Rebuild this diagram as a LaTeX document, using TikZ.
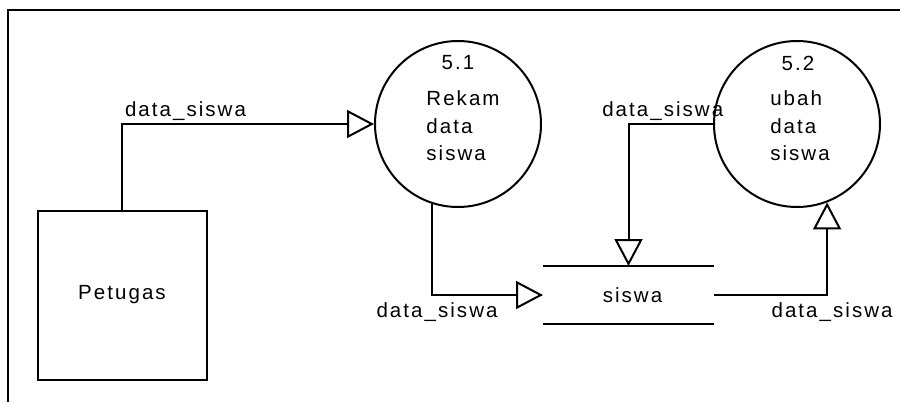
\documentclass[tikz,border=0pt]{standalone}
\usepackage{fontspec}
\setmainfont{Liberation Sans}[LetterSpace=10]
\usetikzlibrary{arrows.meta}

\begin{document}
\begin{tikzpicture}[x=1pt, y=-1pt, line width=2pt,
  every node/.style={font=\fontsize{20.5}{27.5}\selectfont},
  proc/.style={draw, circle, minimum size=166pt, inner sep=0pt},
  ent/.style={draw, rectangle, minimum width=169pt, minimum height=169pt},
  store/.style={rectangle, minimum width=169pt, minimum height=56pt},
  flow/.style={-{Triangle[open, length=27pt, width=28pt]}},
  lbl/.style={inner sep=2pt}]
\useasboundingbox (0,0) rectangle (900,402);
\draw[line width=2.4pt] (900,10) -- (8,10) -- (8,402);

\node[ent] (petugas) at (122,295) {Petugas};
\node[proc] (rekam) at (458,124) {};
\node (rekamno) at (458,63) {5.1};
\node[align=left] (rekamtxt) at (463,126) {Rekam\\data\\siswa};
\node[proc] (ubah) at (797,124) {};
\node (ubahno) at (798,63) {5.2};
\node[align=left] (ubahtxt) at (800,126) {ubah\\data\\siswa};
\node[store] (siswa) at (628.5,295) {\hspace{8pt}siswa};
\draw (siswa.north west) -- (siswa.north east) (siswa.south west) -- (siswa.south east);

\draw[flow] (petugas.north) |- node[pos=0.5, anchor=south west, lbl] {data\_siswa} (rekam.west);
\draw[flow] (rekam.-108) |- node[pos=0.5, below=5pt, xshift=5pt, lbl] {data\_siswa} (siswa.west);
\draw[flow] (ubah.west) -| node[pos=0.25, above, xshift=-8pt, lbl] {data\_siswa} (siswa.north);
\draw[flow] (siswa.east) -| node[pos=0.5, below=5pt, xshift=5pt, lbl] {data\_siswa} (ubah.-69);
\end{tikzpicture}
\end{document}
